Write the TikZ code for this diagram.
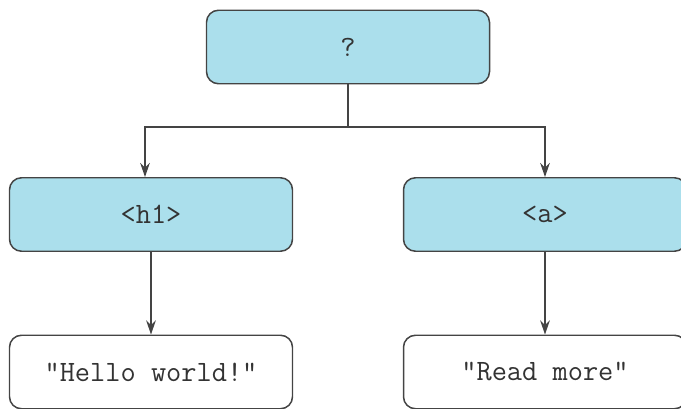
\documentclass[tikz,border=0pt]{standalone}
\usetikzlibrary{arrows.meta}
\definecolor{boxblue}{HTML}{ABDFEC}
\definecolor{boxline}{HTML}{444444}
\definecolor{labelgray}{HTML}{333333}

\begin{document}
\begin{tikzpicture}[->,>={Stealth[length=8pt,width=5.5pt]},
              line width=0.85pt,draw=boxline,
              main node/.style={rectangle,draw=boxline,rounded corners=0.24cm,
                minimum width=5.66cm,minimum height=1.47cm,
                text=labelgray,font=\ttfamily\fontsize{16.8}{19}\selectfont},
              tag node/.style={main node,fill=boxblue},
              leaf node/.style={main node,fill=white}]

            \useasboundingbox (0,0) rectangle (13.62,8.16);
            \clip (0,0) rectangle (13.62,8.16);

            \node[tag node] (root) at (6.96,7.22) {?};
            \node[tag node] (hone) at (3.02,3.87) {<h1>};
            \node[tag node] (anchor) at (10.9,3.87) {<a>};
            \node[leaf node] (hello) at (3.02,0.72) {"Hello world!"};
            \node[leaf node] (readmore) at (10.9,0.72) {"Read more"};

            \coordinate (split) at (6.96,5.62);

            \draw[-] (root) -- (split);
            \draw (split) -| ([xshift=-0.12cm]hone.north);
            \draw (split) -| (anchor.north);

            \draw (hone) -- (hello);
            \draw (anchor) -- (readmore);

          \end{tikzpicture}
\end{document}
